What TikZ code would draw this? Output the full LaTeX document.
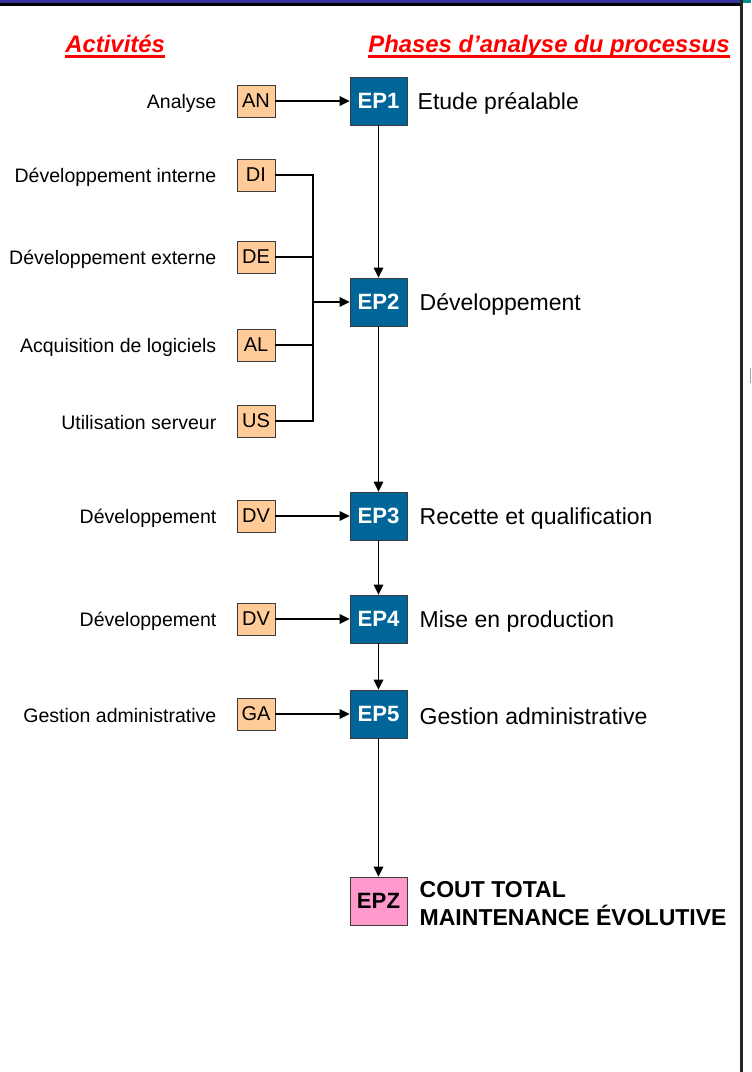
\documentclass[tikz,border=0pt]{standalone}
\usepackage{fontspec}
\setmainfont{Liberation Sans}
\usepackage{tikz}
\usetikzlibrary{arrows.meta,positioning}
\definecolor{epblue}{RGB}{0,102,153}
\definecolor{peach}{RGB}{255,204,153}
\definecolor{epzpink}{RGB}{255,153,204}
\definecolor{boxgray}{RGB}{60,60,60}
\definecolor{topblue}{RGB}{51,51,153}
\definecolor{topteal}{RGB}{0,140,140}

\begin{document}
\begin{tikzpicture}[x=0.02cm,y=-0.02cm,
actbox/.style={draw=boxgray,fill=peach,minimum width=0.76cm,minimum height=0.64cm,inner sep=0pt,font=\fontsize{11.4}{13}\selectfont},
epbox/.style={draw=boxgray,fill=epblue,text=white,minimum width=1.14cm,minimum height=0.96cm,inner sep=0pt,font=\bfseries\fontsize{12.6}{15}\selectfont},
actlabel/.style={inner sep=0pt,yshift=-0.04cm,font=\fontsize{11.1}{13}\selectfont},
eplabel/.style={inner sep=0pt,yshift=-0.05cm,font=\fontsize{13.1}{15.9}\selectfont},
heading/.style={inner sep=0pt,text=red,font=\bfseries\itshape\fontsize{13.6}{16}\selectfont},
underl/.style={red,line width=0.06cm},
flow/.style={line width=0.9pt,-{Triangle[length=0.2cm,width=0.19cm]}},
link/.style={line width=0.9pt}]
\useasboundingbox (0,0) rectangle (751,1072);
\fill[topblue] (0,0) rectangle (741,3);
\fill[black] (0,3) rectangle (741,5.5);
\fill[topteal] (743,0) rectangle (751,3);
\fill[black!85] (740,0) rectangle (743,1072);
\draw[black!35] (750,368)--(750,383);
\node[heading,anchor=base west] (act) at (65,52) {Activités};
\node[heading,anchor=base west] (pha) at (368,52) {Phases d’analyse du processus};
\draw[underl] ([yshift=-0.08cm]act.base west)--([yshift=-0.08cm]act.base east);
\draw[underl] ([yshift=-0.08cm]pha.base west)--([yshift=-0.08cm]pha.base east);
\node[epbox] (ep1) at (378.5,101) {EP1};
\node[epbox] (ep2) at (378.5,302) {EP2};
\node[epbox] (ep3) at (378.5,516) {EP3};
\node[epbox] (ep4) at (378.5,619) {EP4};
\node[epbox] (ep5) at (378.5,714) {EP5};
\node[epbox,fill=epzpink,text=black] (epz) at (378.5,901) {EPZ};
\node[eplabel,right=0.2cm of ep1] (lep1) {Etude préalable};
\node[eplabel,right=0.24cm of ep2] (lep2) {Développement};
\node[eplabel,right=0.24cm of ep3] (lep3) {Recette et qualification};
\node[eplabel,right=0.24cm of ep4] (lep4) {Mise en production};
\node[eplabel,right=0.24cm of ep5] (lep5) {Gestion administrative};
\node[eplabel,font=\bfseries\fontsize{13.1}{15.9}\selectfont,align=left,right=0.24cm of epz] (lepz) {COUT TOTAL\\MAINTENANCE ÉVOLUTIVE};
\node[actbox] (an) at (256,101) {AN};
\node[actbox] (di) at (256,175) {DI};
\node[actbox] (de) at (256,257) {DE};
\node[actbox] (al) at (256,345) {AL};
\node[actbox] (us) at (256,421) {US};
\node[actbox] (dv1) at (256,516) {DV};
\node[actbox] (dv2) at (256,619) {DV};
\node[actbox] (ga) at (256,714) {GA};
\node[actlabel,left=0.40cm of an] (lan) {Analyse};
\node[actlabel,left=0.40cm of di] (ldi) {Développement interne};
\node[actlabel,left=0.40cm of de] (lde) {Développement externe};
\node[actlabel,left=0.40cm of al] (lal) {Acquisition de logiciels};
\node[actlabel,left=0.40cm of us] (lus) {Utilisation serveur};
\node[actlabel,left=0.40cm of dv1] (ldv1) {Développement};
\node[actlabel,left=0.40cm of dv2] (ldv2) {Développement};
\node[actlabel,left=0.40cm of ga] (lga) {Gestion administrative};
\coordinate (bus) at (313,302);
\draw[link] (di)-|(bus);
\draw[link] (de)-|(bus);
\draw[link] (al)-|(bus);
\draw[link] (us)-|(bus);
\draw[flow] (bus)--(ep2);
\draw[flow] (an)--(ep1);
\draw[flow] (dv1)--(ep3);
\draw[flow] (dv2)--(ep4);
\draw[flow] (ga)--(ep5);
\draw[flow] (ep1)--(ep2);
\draw[flow] (ep2)--(ep3);
\draw[flow] (ep3)--(ep4);
\draw[flow] (ep4)--(ep5);
\draw[flow] (ep5)--(epz);
\end{tikzpicture}
\end{document}
